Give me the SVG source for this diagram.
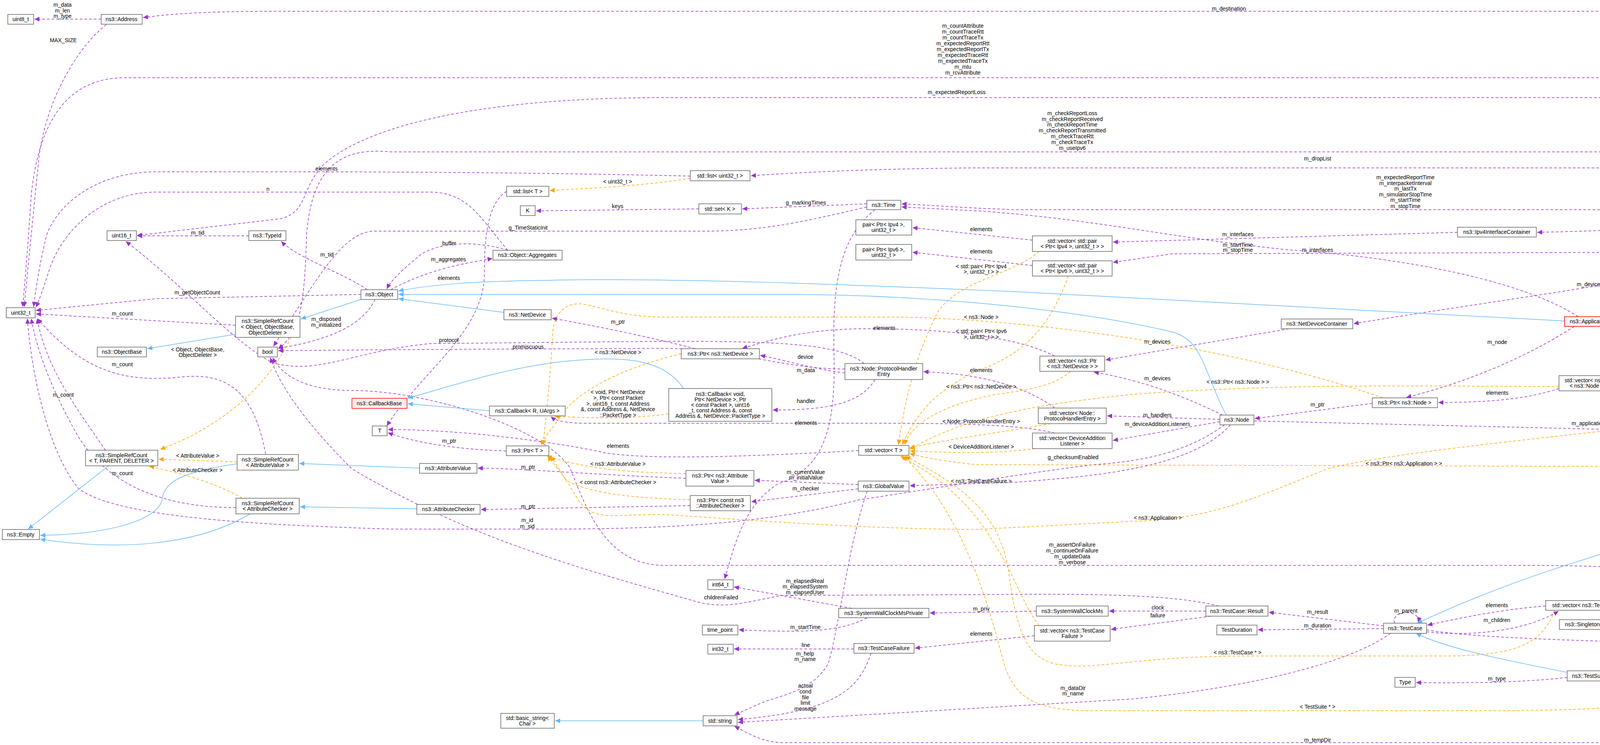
<svg xmlns="http://www.w3.org/2000/svg" width="4925" height="1908" viewBox="0 0 4925 1908">
<style>
.n rect{fill:#fff;stroke:#666;stroke-width:1.5}
.r rect{fill:#fff0f0;stroke:#f00;stroke-width:1.5}
.g rect{fill:#999;stroke:#666;stroke-width:1.5}
text{font-family:"Liberation Sans",Arial,sans-serif;font-size:14px;fill:#000;text-anchor:middle}
.e path{fill:none;stroke-width:1.5}
.p{stroke:#9a32cd;stroke-dasharray:7,5;marker-end:url(#ap)}
.o{stroke:#ffa500;stroke-dasharray:7,5;marker-end:url(#ao)}
.b{stroke:#63b8ff;marker-end:url(#ab)}
</style>
<defs>
<marker id="ap" markerUnits="userSpaceOnUse" markerWidth="14" markerHeight="12" refX="13" refY="6" orient="auto"><path d="M0,0 L13,6 L0,12 z" fill="#9a32cd"/></marker>
<marker id="ao" markerUnits="userSpaceOnUse" markerWidth="14" markerHeight="12" refX="13" refY="6" orient="auto"><path d="M0,0 L13,6 L0,12 z" fill="#ffa500"/></marker>
<marker id="ab" markerUnits="userSpaceOnUse" markerWidth="14" markerHeight="12" refX="13" refY="6" orient="auto"><path d="M0,0 L13,6 L0,12 z" fill="#63b8ff"/></marker>
</defs>
<rect width="4925" height="1908" fill="#fff"/>
<g id="edges" class="e">
<path class="p" d="M259,49 L88,49"/>
<path class="p" d="M272,63 C200,120 120,250 100,400 C85,550 70,700 62,786"/>
<path class="p" d="M4840,524 C4800,200 4700,29 4300,29 L700,29 C500,29 420,38 366,45"/>
<path class="p" d="M4830,524 C4780,300 4700,199 4400,199 L320,199 C180,199 100,300 80,500 C70,650 64,720 58,786"/>
<path class="p" d="M4820,524 C4700,350 4500,250 4100,250 L1700,250 C1200,250 930,330 830,420 C770,480 790,540 720,560 L351,603"/>
<path class="p" d="M4815,524 C4700,420 4550,389 4200,389 L1000,389 C900,380 800,400 785,600 C780,750 775,850 712,893"/>
<path class="p" d="M4810,524 C4700,460 4600,430 4300,430 L2500,430 C2200,432 2000,445 1922,450"/>
<path class="p" d="M1767,451 C1500,445 1200,440 700,440 L400,440 C250,440 150,520 120,600 C100,680 92,740 86,786"/>
<path class="p" d="M1300,641 C1230,560 1200,492 1100,492 L400,492 C250,492 160,600 130,680 C110,740 100,770 92,787"/>
<path class="p" d="M2219,522 L1900,535"/>
<path class="p" d="M1789,535 L1372,540"/>
<path class="p" d="M2219,530 C2050,570 1950,592 1800,592 L960,592 C880,592 820,700 700,887"/>
<path class="p" d="M2240,537 C2160,600 2130,700 2135,900 C2140,1100 2110,1200 1990,1240 C1900,1300 1880,1400 1855,1483"/>
<path class="p" d="M1297,490 C1250,520 1240,600 1240,700 C1240,850 1080,950 990,1091"/>
<path class="p" d="M924,754 L400,765 L92,795"/>
<path class="p" d="M960,767 C930,830 850,870 712,892"/>
<path class="p" d="M940,742 C880,700 760,660 720,618"/>
<path class="p" d="M1000,742 C1080,700 1150,680 1261,662"/>
<path class="p" d="M1300,641 C1250,625 1150,610 1080,650 C1030,690 1000,720 990,740"/>
<path class="p" d="M603,833 L92,804"/>
<path class="p" d="M270,1153 C200,1050 120,950 95,816"/>
<path class="p" d="M680,1163 C650,1000 580,955 470,965 C330,980 220,960 96,816"/>
<path class="p" d="M604,1300 C400,1300 260,1230 190,1100 C130,990 95,900 80,816"/>
<path class="p" d="M637,604 L351,604"/>
<path class="p" d="M1780,893 C1650,860 1500,830 1413,815"/>
<path class="p" d="M2163,955 C2080,945 2000,920 1946,910"/>
<path class="p" d="M2240,972 C2200,1040 2100,1050 1978,1050"/>
<path class="p" d="M2212,931 C2150,880 2000,874 1700,874 L1100,880 C900,900 820,960 700,930 C600,880 480,740 322,618"/>
<path class="p" d="M2163,945 C2000,945 1900,895 1700,892 L1100,895 L712,898"/>
<path class="p" d="M2700,912 C2600,860 2400,840 2200,842 C2050,845 1980,870 1900,892"/>
<path class="p" d="M2700,1045 C2600,970 2450,955 2364,952"/>
<path class="p" d="M2700,1109 C2600,1084 2400,1084 2200,1084 L1500,1084 C1440,1084 1420,1075 1410,1067"/>
<path class="p" d="M2643,615 L2336,583"/>
<path class="p" d="M2643,680 L2336,646"/>
<path class="p" d="M3300,842 L2830,922"/>
<path class="p" d="M3130,1063 C3000,1000 2900,970 2800,953"/>
<path class="p" d="M3123,1074 L2834,1065"/>
<path class="p" d="M3123,1080 L2849,1128"/>
<path class="p" d="M3210,1078 L4747,1115"/>
<path class="p" d="M3135,1088 C3050,1150 2950,1180 2800,1190 C2600,1215 2400,1250 2200,1280 C2000,1330 1800,1355 1400,1355 L1000,1355 C700,1345 300,1330 200,1250 C120,1150 80,950 70,816"/>
<path class="p" d="M3150,1088 C3050,1200 2800,1220 2600,1235 L2329,1244"/>
<path class="p" d="M3513,1033 L3212,1072"/>
<path class="p" d="M4030,836 C3900,920 3750,980 3600,1018"/>
<path class="p" d="M4040,811 C3900,720 3600,660 3300,640 C3000,610 2800,560 2500,540 L2308,530"/>
<path class="p" d="M3991,995 C3900,1025 3800,1030 3682,1031"/>
<path class="p" d="M4500,867 C4400,950 4250,962 4147,970"/>
<path class="p" d="M4510,1050 C4480,950 4350,860 4133,825"/>
<path class="p" d="M4750,1098 L4636,1070"/>
<path class="p" d="M3731,595 L2849,620"/>
<path class="p" d="M4202,646 L3000,650 L2849,672"/>
<path class="p" d="M4780,542 C4500,570 4200,590 3935,595"/>
<path class="p" d="M4820,550 C4700,620 4550,650 4407,650"/>
<path class="p" d="M4830,550 C4750,620 4600,640 4400,680 C4000,750 3700,790 3465,829"/>
<path class="p" d="M4840,550 C4800,700 4700,800 4560,842"/>
<path class="p" d="M4780,537 L2600,537 C2450,532 2380,525 2308,522"/>
<path class="p" d="M1756,1225 C1500,1215 1350,1200 1223,1199"/>
<path class="p" d="M1767,1295 L1231,1305"/>
<path class="p" d="M2197,1241 L1932,1230"/>
<path class="p" d="M2197,1252 L1923,1285"/>
<path class="p" d="M2220,1258 C2170,1400 2150,1600 2120,1700 C2080,1770 2000,1780 1950,1800 L1880,1831"/>
<path class="p" d="M2180,1558 L1879,1503"/>
<path class="p" d="M2220,1582 C2150,1620 2050,1620 1891,1613"/>
<path class="p" d="M2653,1565 L2380,1570"/>
<path class="p" d="M3087,1565 L2839,1565"/>
<path class="p" d="M3100,1578 L2844,1612"/>
<path class="p" d="M3120,1552 C3000,1522 2800,1520 2500,1523 L2000,1525 C1900,1545 1850,1560 1780,1540 C1500,1460 1200,1380 900,1200 C800,1100 720,1000 692,916"/>
<path class="p" d="M2648,1628 L2342,1660"/>
<path class="p" d="M2186,1662 L1879,1662"/>
<path class="p" d="M2230,1673 C2200,1760 2150,1820 1889,1843"/>
<path class="p" d="M3542,1603 L3248,1568"/>
<path class="p" d="M3542,1610 L3220,1613"/>
<path class="p" d="M3570,1596 C3560,1560 3640,1560 3630,1594"/>
<path class="p" d="M3652,1618 C3750,1630 3900,1620 3990,1565"/>
<path class="p" d="M3957,1552 C3850,1560 3750,1580 3654,1601"/>
<path class="p" d="M3560,1622 C3450,1700 3200,1760 2900,1790 L1889,1850"/>
<path class="p" d="M3652,1613 C3800,1640 4300,1650 4756,1650"/>
<path class="p" d="M4012,1735 C3900,1748 3750,1750 3625,1748"/>
<path class="p" d="M4437,1731 L4126,1731"/>
<path class="p" d="M4790,1663 C4700,1690 4650,1700 4590,1718"/>
<path class="p" d="M4850,1663 C4800,1800 4700,1902 4500,1902 L2000,1902 C1950,1900 1920,1880 1880,1860"/>
<path class="p" d="M4840,1637 C4700,1500 4400,1448 3900,1448 L1700,1448 C1550,1448 1500,1300 1460,1200 C1400,1100 1100,1000 900,1000 C780,1000 720,960 698,916"/>
<path class="p" d="M1296,1155 C1150,1150 1050,1130 993,1108"/>
<path class="p" d="M2198,1154 C1900,1170 1670,1178 1550,1160 C1450,1137 1200,1100 993,1100"/>
<path class="o" d="M745,864 C700,960 600,1080 410,1151"/>
<path class="o" d="M607,1183 L406,1176"/>
<path class="o" d="M620,1276 C540,1230 450,1210 382,1194"/>
<path class="o" d="M1767,457 C1650,475 1550,480 1407,488"/>
<path class="o" d="M1712,1060 C1600,1075 1500,1070 1420,1066"/>
<path class="o" d="M1744,906 C1600,940 1480,1000 1440,1060 C1420,1090 1400,1110 1385,1140"/>
<path class="o" d="M1756,1213 C1600,1210 1500,1200 1400,1168"/>
<path class="o" d="M1767,1280 C1600,1275 1500,1260 1450,1230 C1430,1200 1410,1180 1402,1168"/>
<path class="o" d="M3540,1019 C3200,900 2700,820 2300,812 L1700,812 C1600,812 1550,790 1500,780 C1450,770 1420,800 1415,850 C1410,950 1400,1050 1390,1140"/>
<path class="o" d="M4429,1065 C4100,1110 3600,1150 3400,1200 C3200,1280 3100,1330 2900,1335 L2500,1356 C2200,1355 1900,1330 1700,1318 C1580,1315 1520,1340 1480,1280 C1450,1230 1430,1200 1410,1168"/>
<path class="o" d="M2660,644 C2600,700 2450,720 2400,800 C2350,900 2320,1000 2300,1139"/>
<path class="o" d="M2735,707 C2700,800 2650,900 2500,950 C2400,1000 2350,1050 2310,1139"/>
<path class="o" d="M2740,951 C2700,990 2620,1000 2550,1010 C2400,1040 2330,1090 2316,1139"/>
<path class="o" d="M2690,1085 C2550,1110 2450,1120 2329,1147"/>
<path class="o" d="M2650,1149 C2550,1162 2450,1160 2329,1155"/>
<path class="o" d="M3991,990 C3700,990 3300,980 2900,1010 C2600,1040 2450,1080 2329,1151"/>
<path class="o" d="M4790,1133 C4700,1180 4600,1195 4300,1195 L2500,1190 C2400,1180 2350,1168 2329,1161"/>
<path class="o" d="M2660,1602 C2620,1550 2600,1480 2550,1400 C2480,1280 2400,1220 2305,1168"/>
<path class="o" d="M3980,1563 C3950,1640 3900,1680 3700,1680 L3200,1680 C2900,1680 2800,1720 2700,1700 C2620,1680 2600,1600 2580,1450 C2550,1300 2450,1240 2318,1168"/>
<path class="o" d="M4470,1744 C4300,1810 4100,1820 3800,1820 L2800,1820 C2650,1820 2600,1790 2570,1700 C2520,1500 2450,1300 2312,1168"/>
<path class="o" d="M4432,1596 L4145,1600"/>
<path class="b" d="M603,856 L377,893"/>
<path class="b" d="M924,767 L770,817"/>
<path class="b" d="M1290,800 L1020,765"/>
<path class="b" d="M3139,1063 C3080,950 3080,870 3000,850 C2700,780 2300,754 2000,754 L1300,754 L1020,754"/>
<path class="b" d="M4005,822 L2600,747 C2200,730 1700,710 1400,718 C1200,720 1100,730 1020,745"/>
<path class="b" d="M1750,995 C1700,920 1600,910 1450,925 C1300,940 1150,990 1044,1020"/>
<path class="b" d="M1253,1052 L1044,1034"/>
<path class="b" d="M278,1193 L72,1355"/>
<path class="b" d="M607,1188 C450,1210 420,1240 415,1280 C400,1340 250,1370 103,1371"/>
<path class="b" d="M640,1316 C500,1400 300,1410 103,1381"/>
<path class="b" d="M1074,1199 L766,1187"/>
<path class="b" d="M1067,1303 L768,1298"/>
<path class="b" d="M1800,1846 L1421,1846"/>
<path class="b" d="M4835,550 C4820,800 4800,1000 4740,1120 C4650,1280 4500,1310 4300,1360 C4100,1420 3900,1470 3628,1596"/>
<path class="b" d="M4012,1722 C3850,1690 3700,1660 3625,1622"/>
<path class="b" d="M4780,1637 L4633,1612"/>
</g>
<g id="labels">
<text x="160" y="17">m_data</text><text x="160" y="32">m_len</text><text x="160" y="46">m_type</text>
<text x="162" y="108">MAX_SIZE</text>
<text x="3146" y="27">m_destination</text>
<text x="2465" y="71">m_countAttribute</text><text x="2465" y="86">m_countTraceRtt</text><text x="2465" y="101">m_countTraceTx</text><text x="2465" y="116">m_expectedReportRtt</text><text x="2465" y="131">m_expectedReportTx</text><text x="2465" y="146">m_expectedTraceRtt</text><text x="2465" y="161">m_expectedTraceTx</text><text x="2465" y="176">m_mtu</text><text x="2465" y="191">m_rcvAttribute</text>
<text x="2449" y="241">m_expectedReportLoss</text>
<text x="2745" y="295">m_checkReportLoss</text><text x="2745" y="310">m_checkReportReceived</text><text x="2745" y="324">m_checkReportTime</text><text x="2745" y="339">m_checkReportTransmitted</text><text x="2745" y="354">m_checkTraceRtt</text><text x="2745" y="369">m_checkTraceTx</text><text x="2745" y="384">m_useIpv6</text>
<text x="836" y="437">elements</text>
<text x="3373" y="411">m_dropList</text>
<text x="686" y="489">n</text>
<text x="3598" y="459">m_expectedReportTime</text><text x="3598" y="474">m_interpacketInterval</text><text x="3598" y="488">m_lastTx</text><text x="3598" y="503">m_simulatorStopTime</text><text x="3598" y="517">m_startTime</text><text x="3598" y="533">m_stopTime</text>
<text x="1581" y="470">&lt; uint32_t &gt;</text><text x="1581" y="533">keys</text><text x="2063" y="524">g_markingTimes</text><text x="1352" y="588">g_TimeStaticInit</text>
<text x="4305" y="576">m_ipv4Interfaces</text><text x="4533" y="633">m_ipv6Interfaces</text>
<text x="2512" y="592">elements</text><text x="2512" y="649">elements</text>
<text x="3169" y="605">m_interfaces</text><text x="3169" y="632">m_startTime</text><text x="3169" y="645">m_stopTime</text><text x="3373" y="645">m_interfaces</text>
<text x="506" y="601">m_tid</text><text x="1150" y="628">buffer</text><text x="837" y="657">m_tid</text><text x="1148" y="669">m_aggregates</text>
<text x="2512" y="687">&lt; std::pair&lt; Ptr&lt; Ipv4</text><text x="2512" y="701">&gt;, uint32_t &gt; &gt;</text>
<text x="1149" y="717">elements</text>
<text x="4070" y="733">m_devices</text><text x="4693" y="740">m_nodes</text>
<text x="505" y="754">m_getObjectCount</text><text x="313" y="808">m_count</text><text x="835" y="822">m_disposed</text><text x="835" y="837">m_initialized</text>
<text x="2512" y="817">&lt; ns3::Node &gt;</text><text x="1582" y="829">m_ptr</text><text x="4306" y="833">m_ptr</text>
<text x="2264" y="845">elements</text><text x="2512" y="853">&lt; std::pair&lt; Ptr&lt; Ipv6</text><text x="2512" y="868">&gt;, uint32_t &gt; &gt;</text>
<text x="1149" y="876">protocol</text><text x="2963" y="880">m_devices</text><text x="3833" y="881">m_node</text>
<text x="1352" y="893">promiscuous</text><text x="506" y="900">&lt; Object, ObjectBase,</text><text x="506" y="914">ObjectDeleter &gt;</text>
<text x="1582" y="907">&lt; ns3::NetDevice &gt;</text><text x="4306" y="917">m_nodes</text><text x="2062" y="919">device</text>
<text x="313" y="938">m_count</text><text x="2063" y="953">m_data</text><text x="2512" y="953">elements</text><text x="2963" y="974">m_devices</text><text x="3169" y="983">&lt; ns3::Ptr&lt; ns3::Node &gt; &gt;</text>
<text x="2512" y="995">&lt; ns3::Ptr&lt; ns3::NetDevice &gt;</text><text x="3833" y="1011">elements</text><text x="162" y="1016">m_count</text>
<text x="1582" y="1009">&lt; void, Ptr&lt; NetDevice</text><text x="1582" y="1024">&gt;, Ptr&lt; const Packet</text><text x="1582" y="1039">&gt;, uint16_t, const Address</text><text x="1582" y="1053">&amp;, const Address &amp;, NetDevice</text><text x="1582" y="1068">::PacketType &gt;</text>
<text x="2063" y="1032">handler</text><text x="3373" y="1041">m_ptr</text><text x="2963" y="1068">m_handlers</text><text x="2063" y="1088">elements</text><text x="2963" y="1091">m_deviceAdditionListeners</text><text x="4693" y="1080">elements</text><text x="4070" y="1089">m_applications</text><text x="2512" y="1084">&lt; Node::ProtocolHandlerEntry &gt;</text>
<text x="1150" y="1134">m_ptr</text><text x="1582" y="1147">elements</text><text x="2512" y="1149">&lt; DeviceAdditionListener &gt;</text>
<text x="506" y="1172">&lt; AttributeValue &gt;</text><text x="2747" y="1176">g_checksumEnabled</text><text x="1582" y="1193">&lt; ns3::AttributeValue &gt;</text><text x="3594" y="1192">&lt; ns3::Ptr&lt; ns3::Application &gt; &gt;</text><text x="1352" y="1201">m_ptr</text>
<text x="506" y="1209">&lt; AttributeChecker &gt;</text><text x="2063" y="1214">m_currentValue</text><text x="2063" y="1228">m_initialValue</text><text x="313" y="1217">m_count</text><text x="2512" y="1237">&lt; ns3::TestCaseFailure &gt;</text><text x="1582" y="1240">&lt; const ns3::AttributeChecker &gt;</text><text x="2063" y="1256">m_checker</text>
<text x="1352" y="1302">m_ptr</text><text x="2964" y="1331">&lt; ns3::Application &gt;</text><text x="1350" y="1337">m_id</text><text x="1350" y="1353">m_sid</text>
<text x="2745" y="1400">m_assertOnFailure</text><text x="2745" y="1415">m_continueOnFailure</text><text x="2745" y="1430">m_updateData</text><text x="2745" y="1445">m_verbose</text>
<text x="2061" y="1493">m_elapsedReal</text><text x="2061" y="1507">m_elapsedSystem</text><text x="2061" y="1522">m_elapsedUser</text><text x="1846" y="1535">childrenFailed</text>
<text x="3832" y="1555">elements</text><text x="2512" y="1564">m_priv</text><text x="2964" y="1561">clock</text><text x="3599" y="1569">m_parent</text><text x="3373" y="1572">m_result</text><text x="2964" y="1581">failure</text>
<text x="4306" y="1592">&lt; TestRunnerImpl &gt;</text><text x="3832" y="1593">m_children</text><text x="3373" y="1607">m_duration</text><text x="2062" y="1611">m_startTime</text><text x="2512" y="1628">elements</text>
<text x="4306" y="1647">m_runner</text><text x="2063" y="1657">line</text><text x="3168" y="1676">&lt; ns3::TestCase * &gt;</text><text x="2061" y="1679">m_help</text><text x="2061" y="1693">m_name</text><text x="4693" y="1680">m_suites</text>
<text x="4306" y="1728">elements</text><text x="3832" y="1743">m_type</text>
<text x="2062" y="1761">actual</text><text x="2062" y="1776">cond</text><text x="2062" y="1791">file</text><text x="2062" y="1805">limit</text><text x="2062" y="1820">message</text>
<text x="2747" y="1767">m_dataDir</text><text x="2747" y="1781">m_name</text><text x="3373" y="1815">&lt; TestSuite * &gt;</text><text x="3373" y="1900">m_tempDir</text>
</g>
<g id="n_uint8" class="n"><rect x="20" y="37" width="66" height="25"/><text x="53" y="54">uint8_t</text></g>
<g id="n_address" class="n"><rect x="259" y="37" width="105" height="25"/><text x="311" y="54">ns3::Address</text></g>
<g id="n_uint16" class="n"><rect x="274" y="591" width="75" height="25"/><text x="311" y="608">uint16_t</text></g>
<g id="n_typeid" class="n"><rect x="637" y="591" width="95" height="25"/><text x="684" y="608">ns3::TypeId</text></g>
<g id="n_uint32" class="n"><rect x="16" y="788" width="74" height="26"/><text x="53" y="806">uint32_t</text></g>
<g id="n_object" class="n"><rect x="924" y="742" width="94" height="25"/><text x="971" y="759">ns3::Object</text></g>
<g id="n_srcobj" class="n"><rect x="603" y="810" width="165" height="54"/><text x="685" y="827">ns3::SimpleRefCount</text><text x="685" y="842">&lt; Object, ObjectBase,</text><text x="685" y="857">ObjectDeleter &gt;</text></g>
<g id="n_objectbase" class="n"><rect x="249" y="889" width="126" height="25"/><text x="312" y="906">ns3::ObjectBase</text></g>
<g id="n_bool" class="n"><rect x="660" y="889" width="50" height="25"/><text x="685" y="906">bool</text></g>
<g id="n_callbackbase" class="r"><rect x="901" y="1020" width="141" height="26"/><text x="971" y="1038">ns3::CallbackBase</text></g>
<g id="n_T" class="n"><rect x="953" y="1091" width="38" height="25"/><text x="972" y="1108">T</text></g>
<g id="n_srct" class="n"><rect x="219" y="1153" width="185" height="40"/><text x="311" y="1171">ns3::SimpleRefCount</text><text x="311" y="1185">&lt; T, PARENT, DELETER &gt;</text></g>
<g id="n_srcav" class="n"><rect x="607" y="1164" width="157" height="40"/><text x="685" y="1182">ns3::SimpleRefCount</text><text x="685" y="1196">&lt; AttributeValue &gt;</text></g>
<g id="n_av" class="n"><rect x="1074" y="1187" width="147" height="25"/><text x="1147" y="1204">ns3::AttributeValue</text></g>
<g id="n_srcac" class="n"><rect x="604" y="1276" width="162" height="40"/><text x="685" y="1294">ns3::SimpleRefCount</text><text x="685" y="1308">&lt; AttributeChecker &gt;</text></g>
<g id="n_ac" class="n"><rect x="1067" y="1292" width="162" height="25"/><text x="1148" y="1309">ns3::AttributeChecker</text></g>
<g id="n_empty" class="n"><rect x="6" y="1356" width="95" height="26"/><text x="53" y="1374">ns3::Empty</text></g>
<g id="n_aggregates" class="n"><rect x="1262" y="641" width="177" height="25"/><text x="1350" y="658">ns3::Object::Aggregates</text></g>
<g id="n_listu32" class="n"><rect x="1767" y="437" width="153" height="26"/><text x="1843" y="455">std::list&lt; uint32_t &gt;</text></g>
<g id="n_listT" class="n"><rect x="1297" y="477" width="108" height="26"/><text x="1351" y="495">std::list&lt; T &gt;</text></g>
<g id="n_K" class="n"><rect x="1332" y="527" width="38" height="25"/><text x="1351" y="544">K</text></g>
<g id="n_setK" class="n"><rect x="1789" y="522" width="109" height="26"/><text x="1843" y="540">std::set&lt; K &gt;</text></g>
<g id="n_time" class="n"><rect x="2219" y="513" width="87" height="24"/><text x="2262" y="530">ns3::Time</text></g>
<g id="n_pair4" class="n"><rect x="2191" y="563" width="143" height="39"/><text x="2262" y="580">pair&lt; Ptr&lt; Ipv4 &gt;,</text><text x="2262" y="594">uint32_t &gt;</text></g>
<g id="n_pair6" class="n"><rect x="2191" y="626" width="143" height="40"/><text x="2262" y="644">pair&lt; Ptr&lt; Ipv6 &gt;,</text><text x="2262" y="658">uint32_t &gt;</text></g>
<g id="n_netdevice" class="n"><rect x="1290" y="793" width="121" height="26"/><text x="1350" y="811">ns3::NetDevice</text></g>
<g id="n_ptrnd" class="n"><rect x="1744" y="893" width="200" height="26"/><text x="1844" y="911">ns3::Ptr&lt; ns3::NetDevice &gt;</text></g>
<g id="n_phe" class="n"><rect x="2163" y="931" width="199" height="41"/><text x="2262" y="949">ns3::Node::ProtocolHandler</text><text x="2262" y="963">Entry</text></g>
<g id="n_cbvoid" class="n"><rect x="1712" y="995" width="264" height="84"/><text x="1844" y="1014">ns3::Callback&lt; void,</text><text x="1844" y="1028">Ptr&lt; NetDevice &gt;, Ptr</text><text x="1844" y="1042">&lt; const Packet &gt;, uint16</text><text x="1844" y="1056">_t, const Address &amp;, const</text><text x="1844" y="1070">Address &amp;, NetDevice::PacketType &gt;</text></g>
<g id="n_cbR" class="n"><rect x="1253" y="1040" width="194" height="25"/><text x="1350" y="1057">ns3::Callback&lt; R, UArgs &gt;</text></g>
<g id="n_ptrT" class="n"><rect x="1296" y="1142" width="109" height="25"/><text x="1350" y="1159">ns3::Ptr&lt; T &gt;</text></g>
<g id="n_ptrav" class="n"><rect x="1756" y="1205" width="174" height="40"/><text x="1843" y="1223">ns3::Ptr&lt; ns3::Attribute</text><text x="1843" y="1237">Value &gt;</text></g>
<g id="n_vecT" class="n"><rect x="2198" y="1141" width="129" height="25"/><text x="2262" y="1158">std::vector&lt; T &gt;</text></g>
<g id="n_globalvalue" class="n"><rect x="2197" y="1232" width="130" height="26"/><text x="2262" y="1250">ns3::GlobalValue</text></g>
<g id="n_ptrac" class="n"><rect x="1767" y="1269" width="154" height="39"/><text x="1844" y="1286">ns3::Ptr&lt; const ns3</text><text x="1844" y="1300">::AttributeChecker &gt;</text></g>
<g id="n_int64" class="n"><rect x="1812" y="1485" width="65" height="25"/><text x="1844" y="1502">int64_t</text></g>
<g id="n_swcmp" class="n"><rect x="2147" y="1558" width="231" height="24"/><text x="2262" y="1575">ns3::SystemWallClockMsPrivate</text></g>
<g id="n_timepoint" class="n"><rect x="1798" y="1601" width="91" height="25"/><text x="1843" y="1618">time_point</text></g>
<g id="n_int32" class="n"><rect x="1812" y="1650" width="65" height="25"/><text x="1844" y="1667">int32_t</text></g>
<g id="n_tcf" class="n"><rect x="2186" y="1648" width="154" height="25"/><text x="2263" y="1665">ns3::TestCaseFailure</text></g>
<g id="n_basicstring" class="n"><rect x="1282" y="1827" width="137" height="38"/><text x="1350" y="1844">std::basic_string&lt;</text><text x="1350" y="1858">Char &gt;</text></g>
<g id="n_string" class="n"><rect x="1800" y="1833" width="87" height="26"/><text x="1843" y="1851">std::string</text></g>
<g id="n_vecpair4" class="n"><rect x="2643" y="604" width="204" height="40"/><text x="2745" y="622">std::vector&lt; std::pair</text><text x="2745" y="636">&lt; Ptr&lt; Ipv4 &gt;, uint32_t &gt; &gt;</text></g>
<g id="n_vecpair6" class="n"><rect x="2643" y="668" width="204" height="39"/><text x="2745" y="685">std::vector&lt; std::pair</text><text x="2745" y="699">&lt; Ptr&lt; Ipv6 &gt;, uint32_t &gt; &gt;</text></g>
<g id="n_ndc" class="n"><rect x="3280" y="817" width="183" height="25"/><text x="3371" y="834">ns3::NetDeviceContainer</text></g>
<g id="n_vecptrnd" class="n"><rect x="2662" y="912" width="166" height="39"/><text x="2745" y="929">std::vector&lt; ns3::Ptr</text><text x="2745" y="943">&lt; ns3::NetDevice &gt; &gt;</text></g>
<g id="n_ptrnode" class="n"><rect x="3513" y="1019" width="167" height="25"/><text x="3596" y="1036">ns3::Ptr&lt; ns3::Node &gt;</text></g>
<g id="n_node" class="n"><rect x="3123" y="1063" width="87" height="25"/><text x="3166" y="1080">ns3::Node</text></g>
<g id="n_vecphe" class="n"><rect x="2658" y="1045" width="174" height="40"/><text x="2745" y="1063">std::vector&lt; Node::</text><text x="2745" y="1077">ProtocolHandlerEntry &gt;</text></g>
<g id="n_vecdal" class="n"><rect x="2643" y="1109" width="204" height="40"/><text x="2745" y="1127">std::vector&lt; DeviceAddition</text><text x="2745" y="1141">Listener &gt;</text></g>
<g id="n_ping" class="g"><rect x="4780" y="524" width="108" height="26"/><text x="4834" y="542">PingTestCase</text></g>
<g id="n_ipv4ic" class="n"><rect x="3731" y="582" width="202" height="25"/><text x="3832" y="599">ns3::Ipv4InterfaceContainer</text></g>
<g id="n_ipv6ic" class="n"><rect x="4202" y="633" width="203" height="26"/><text x="4303" y="651">ns3::Ipv6InterfaceContainer</text></g>
<g id="n_application" class="r"><rect x="4005" y="811" width="126" height="25"/><text x="4068" y="828">ns3::Application</text></g>
<g id="n_nodecontainer" class="n"><rect x="4457" y="842" width="150" height="25"/><text x="4532" y="859">ns3::NodeContainer</text></g>
<g id="n_vecptrnode" class="n"><rect x="3991" y="962" width="154" height="39"/><text x="4068" y="979">std::vector&lt; ns3::Ptr</text><text x="4068" y="993">&lt; ns3::Node &gt; &gt;</text></g>
<g id="n_ptrapp" class="n"><rect x="4429" y="1050" width="205" height="25"/><text x="4531" y="1067">ns3::Ptr&lt; ns3::Application &gt;</text></g>
<g id="n_vecptrapp" class="n"><rect x="4749" y="1094" width="171" height="39"/><text x="4834" y="1111">std::vector&lt; ns3::Ptr</text><text x="4834" y="1125">&lt; ns3::Application &gt; &gt;</text></g>
<g id="n_swcm" class="n"><rect x="2653" y="1552" width="184" height="26"/><text x="2745" y="1570">ns3::SystemWallClockMs</text></g>
<g id="n_result" class="n"><rect x="3087" y="1552" width="159" height="26"/><text x="3166" y="1570">ns3::TestCase::Result</text></g>
<g id="n_vectcf" class="n"><rect x="2648" y="1602" width="194" height="40"/><text x="2745" y="1620">std::vector&lt; ns3::TestCase</text><text x="2745" y="1634">Failure &gt;</text></g>
<g id="n_testduration" class="n"><rect x="3115" y="1601" width="103" height="25"/><text x="3166" y="1618">TestDuration</text></g>
<g id="n_testcase" class="n"><rect x="3542" y="1596" width="110" height="26"/><text x="3597" y="1614">ns3::TestCase</text></g>
<g id="n_type" class="n"><rect x="3571" y="1735" width="52" height="25"/><text x="3597" y="1752">Type</text></g>
<g id="n_vectc" class="n"><rect x="3957" y="1538" width="221" height="25"/><text x="4067" y="1555">std::vector&lt; ns3::TestCase * &gt;</text></g>
<g id="n_singletonT" class="n"><rect x="3992" y="1587" width="151" height="25"/><text x="4067" y="1604">ns3::Singleton&lt; T &gt;</text></g>
<g id="n_singletontri" class="n"><rect x="4432" y="1573" width="199" height="40"/><text x="4531" y="1591">ns3::Singleton&lt; TestRunner</text><text x="4531" y="1605">Impl &gt;</text></g>
<g id="n_tri" class="n"><rect x="4758" y="1637" width="153" height="26"/><text x="4834" y="1655">ns3::TestRunnerImpl</text></g>
<g id="n_testsuite" class="n"><rect x="4012" y="1718" width="112" height="26"/><text x="4068" y="1736">ns3::TestSuite</text></g>
<g id="n_vects" class="n"><rect x="4437" y="1718" width="190" height="26"/><text x="4532" y="1736">std::vector&lt; TestSuite * &gt;</text></g>
</svg>
